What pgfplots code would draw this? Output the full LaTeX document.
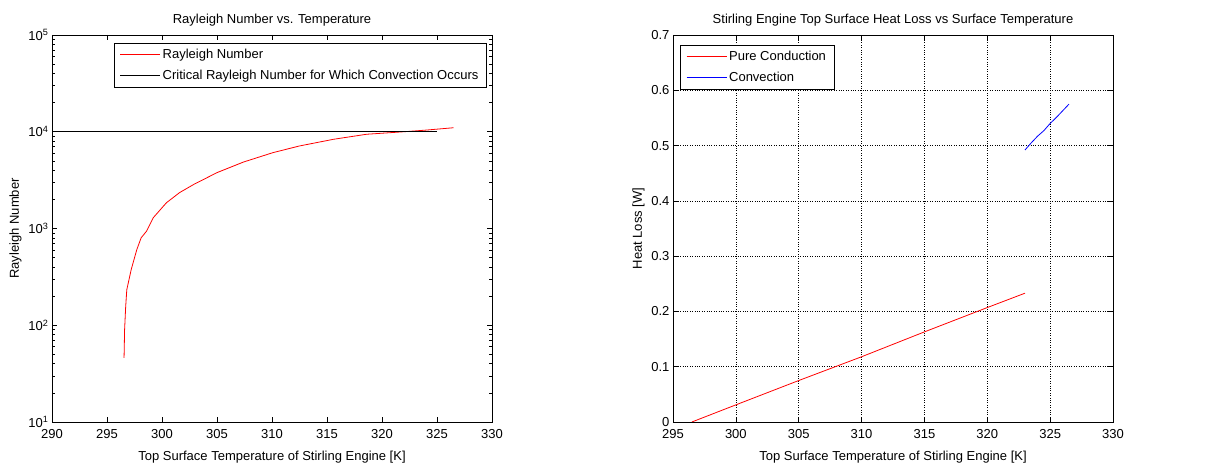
\documentclass[border=0pt]{standalone}
\usepackage{pgfplots}
\pgfplotsset{compat=1.18}
\usepackage{fontspec}
\setmainfont{Liberation Sans}
\begin{document}
\begin{tikzpicture}
\path[use as bounding box] (0pt,0pt) rectangle (1211pt,463pt);
\pgfplotsset{
  legend image code/.code={\draw[#1, line width=0.8pt] (0pt,0pt) -- (40pt,0pt);},
  every axis/.append style={
    font=\fontsize{13}{15}\selectfont,
    scale only axis, width=440pt, height=387pt,
    anchor=south west,
    tick align=inside,
    major tick length=5pt, minor tick length=3pt,
    axis line style={line width=0.6pt},
    every tick/.style={black, line width=0.5pt},
    /pgf/number format/assume math mode=true,
    legend cell align=left,
    legend style={draw=black, line width=0.6pt, font=\fontsize{13}{15}\selectfont, row sep=6pt, inner xsep=6pt, inner ysep=4pt},
    title style={yshift=-1pt},
    xlabel style={yshift=-5pt},
    xticklabel style={yshift=-4pt},
  }
}
\begin{axis}[at={(52pt,41pt)},
  xmin=290, xmax=330, xtick={290,295,...,330},
  ymode=log, ymin=10, ymax=100000,
  ytick={10,100,1000,10000,100000},
  yticklabels={10\textsuperscript{1},10\textsuperscript{2},10\textsuperscript{3},10\textsuperscript{4},10\textsuperscript{5}},
  title={Rayleigh Number vs. Temperature},
  xlabel={Top Surface Temperature of Stirling Engine [K]},
  ylabel={Rayleigh Number},
  legend style={at={(0.988,0.980)}, anchor=north east},
]
\addplot[red, line width=0.8pt] coordinates {
(296.55,46) (296.6,90) (296.7,157) (296.8,233) (297.2,376) (297.7,600)
(298.1,800) (298.6,940) (299.2,1290) (300.4,1845) (301.6,2350) (302.9,2860)
(305.0,3780) (307.4,4860) (310.1,6090) (312.5,7130) (315.6,8360) (318.6,9420)
(322.0,10000) (324.0,10400) (326.5,11000)
};
\addlegendentry{Rayleigh Number}
\addplot[black, line width=0.8pt] coordinates {(290,10000) (325,10000)};
\addlegendentry{Critical Rayleigh Number for Which Convection Occurs}
\end{axis}
\begin{axis}[at={(673pt,41pt)},
  xmin=295, xmax=330, xtick={295,300,...,330},
  ymin=0, ymax=0.7, ytick={0,0.1,...,0.7},
  yticklabel style={/pgf/number format/fixed, /pgf/number format/precision=1},
  grid=major, grid style={dotted, black, line width=0.5pt},
  title={Stirling Engine Top Surface Heat Loss vs Surface Temperature},
  xlabel={Top Surface Temperature of Stirling Engine [K]},
  ylabel={Heat Loss [W]},
  legend style={at={(0.016,0.974)}, anchor=north west},
]
\addplot[red, line width=0.8pt] coordinates {
(296.5,0) (300,0.031) (305,0.075) (310,0.118) (315,0.163) (320,0.207) (323,0.233)
};
\addlegendentry{Pure Conduction}
\addplot[blue, line width=0.8pt] coordinates {
(323.0,0.492) (323.5,0.505) (324.0,0.517) (324.5,0.527) (325.0,0.540) (325.5,0.551) (326.0,0.563) (326.5,0.575)
};
\addlegendentry{Convection}
\end{axis}
\end{tikzpicture}
\end{document}
